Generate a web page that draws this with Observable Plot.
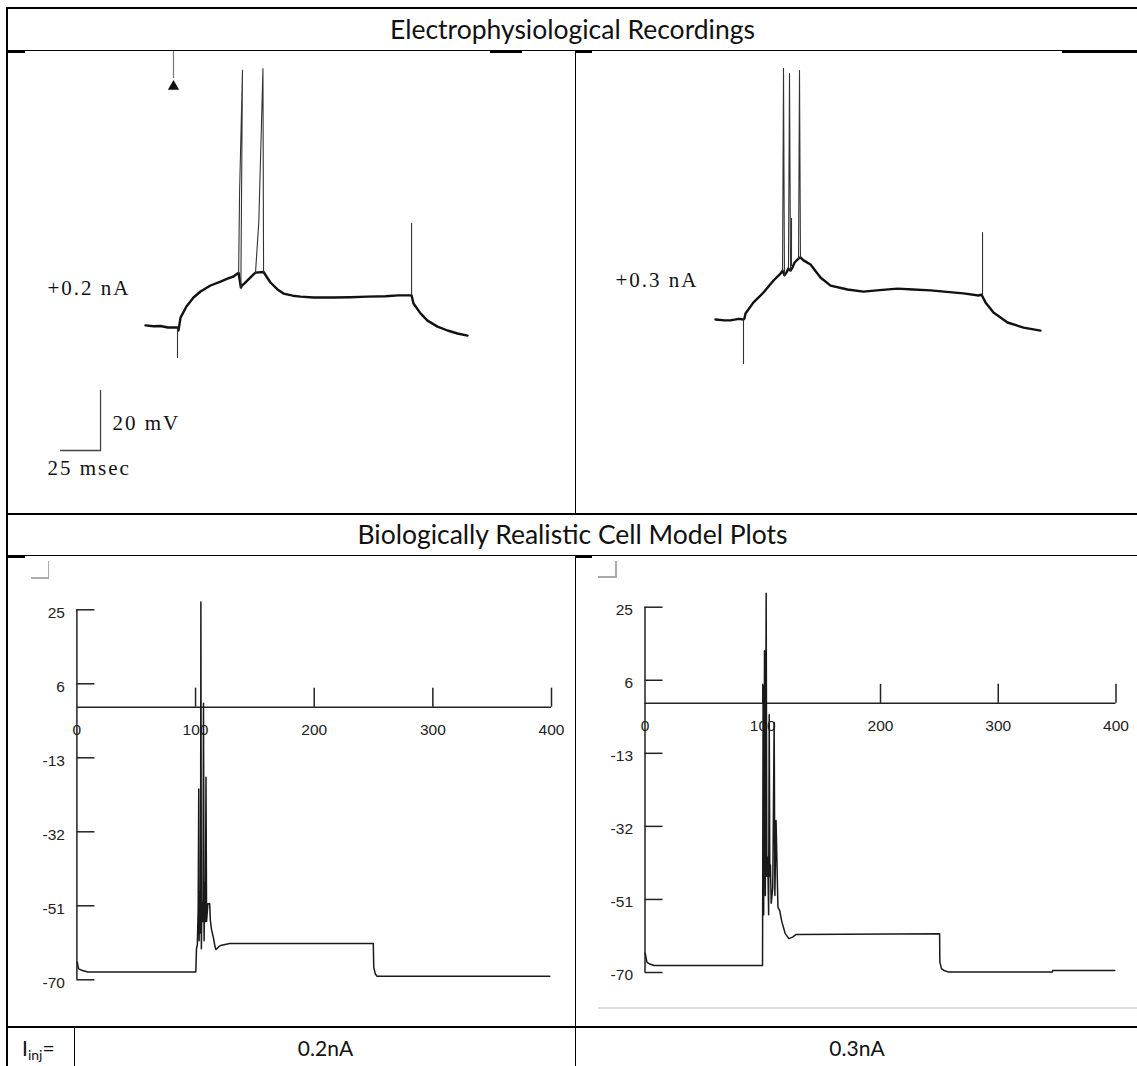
<!DOCTYPE html>
<html>
<head>
<meta charset="utf-8">
<script src="https://cdn.jsdelivr.net/npm/d3@7"></script>
<script src="https://cdn.jsdelivr.net/npm/@observablehq/plot@0.6"></script>
<style>
  html, body { margin: 0; padding: 0; background: #fff; }
  #page { position: relative; width: 1137px; height: 1066px; overflow: hidden; background: #fff; font-family: Lato, "Open Sans", sans-serif; color: #111; }
  .ln { position: absolute; background: #000; }
  .gr { position: absolute; background: #aaa; }
  .hdr { position: absolute; left: 8px; width: 1129px; text-align: center; font-size: 26.5px; line-height: 1; }
  .cell { position: absolute; text-align: center; font-size: 21px; line-height: 1; }
  .pl { position: absolute; }
  .pl svg { overflow: visible; }
</style>
</head>
<body>
<div id="page"></div>
<script>
// ---------------- DATA ----------------
// Table texts
const headerTop = "Electrophysiological Recordings";
const headerBottom = "Biologically Realistic Cell Model Plots";
const currents = ["0.2nA", "0.3nA"];
const recLabels = ["+0.2 nA", "+0.3 nA"];

// Recording 1 (+0.2 nA): time (ms from current step) and membrane potential (mV)
const recA_t = [-20, -15, -10.6, -6, -1.25, 0, 0.6, 1.9, 5.6, 10, 14.4, 20.6, 26.9, 31.25, 35, 37.5, 38.2,
                39.6, 40.3, 41.9, 43.75, 47.5, 48.75, 53.8, 55.6, 58.1, 62.5, 66.25, 72, 76.9, 85, 97.5, 108,
                118.75, 130, 138, 144.4, 146.3, 147.5, 151.9, 156.25, 162.5, 168.75, 175, 181.25];
const recA_v = [-64.3, -64.6, -64.5, -65, -65, -65, -66, -61.7, -58, -55, -53, -51, -49.7, -48.7, -48, -47, -46.8,
                -51.7, -51, -50.3, -49.3, -47.3, -46.7, -46.5, -48, -50, -52.3, -53.7, -54.4, -54.7, -55, -55, -54.9,
                -54.7, -54.6, -54.3, -54.3, -54.3, -57, -60.3, -62.7, -64.7, -66, -67, -67.7];
// Recording 1 spikes / artifacts: each a short polyline (id, t, v)
const spkA_id = [0, 0, 1, 1, 1, 1, 2, 2, 2, 2, 2, 3, 3];
const spkA_t  = [0, 0, 38.2, 38.8, 40.6, 39.6, 48.75, 50.8, 52.6, 53.4, 53.8, 146.3, 146.3];
const spkA_v  = [-65, -75, -46.8, -20, 20.7, -51.7, -46.7, -30, 5, 21.3, -46.5, -54.3, -30.3];

// Recording 2 (+0.3 nA)
const recB_t = [-17.5, -12, -8.1, -3, 0, 0.6, 1.25, 6.25, 12.5, 18.75, 23.1, 24.4, 25.6, 26.9, 28.1, 29.4, 30.6,
                31.9, 34.4, 35.6, 37.5, 41.9, 48.1, 54.4, 65, 75, 85, 96.25, 106, 116.9, 127, 137.5, 146.9, 148.75,
                150, 151.25, 156.25, 165, 175, 185.6];
const recB_v = [-65, -65.3, -65.3, -64.8, -65, -64.7, -63, -59.3, -56, -52, -49.7, -48.7, -50.3, -49.3, -48, -48.7, -47.7,
                -46, -44.7, -44.3, -45.3, -46.7, -51, -53.7, -55, -55.7, -55.2, -54.7, -55, -55.3, -55.8, -56.3, -57, -56.7,
                -58, -59.3, -62.7, -66, -67.7, -68.7];
const spkB_id = [0, 0, 1, 1, 1, 2, 2, 2, 3, 3, 4, 4, 4, 5, 5];
const spkB_t  = [0, 0, 24.4, 25, 25.6, 28.1, 28.75, 29.4, 30, 30, 34.4, 35, 35.6, 149.4, 149.4];
const spkB_v  = [-65, -79.7, -48.7, 18.7, -50.3, -48, 17, -48.7, -47, -31.3, -44.7, 18, -44.3, -56.7, -36];

// Scale bar of the recordings: 25 ms, 20 mV
const scaleBar_t = [-73.1, -48.1, -48.1];
const scaleBar_v = [-106, -106, -86];
const scaleBarLabels = ["20 mV", "25 msec"];

// Model plots: time (ms), V (mV)
const modelA_t = [0.3, 0.6, 1.5, 4.6, 9.2, 100.2, 100.8, 101.5, 102.2, 102.7, 103.0, 103.6, 104.2, 104.5, 104.9,
                  105.4, 106.2, 106.7, 107.2, 107.9, 108.3, 108.8, 109.3, 110.4, 111.9, 112.5, 113.4, 114.9, 116.5,
                  117.2, 118, 119.5, 121.1, 128.7, 249.8, 250.2, 251.5, 253, 398.5];
const modelA_v = [-65.5, -65.9, -67.2, -67.6, -68, -68, -62, -61, -52, -21, -60, -47.5, -58, 27, -62,
                  -50, -55, 1, -60, -45, -55, -18, -55, -50.5, -50.5, -54.8, -57, -59, -61.6,
                  -62.2, -62, -61.5, -61.2, -60.7, -60.7, -66.8, -68.5, -69.1, -69.1];
const modelB_t = [0.2, 1.6, 4, 7.7, 99.8, 99.9, 100.3, 100.8, 101.5, 102.2, 102.9, 103.5, 104.2, 105.0, 105.5,
                  106.0, 106.5, 107.2, 108.5, 109.7, 110.3, 111.3, 112.9, 114.4, 116, 117.5, 119.1, 122.2, 125.3,
                  128.4, 250.2, 250.4, 251.8, 254, 258, 345.9, 346.2, 399];
const modelB_v = [-65, -67.3, -67.8, -68.2, -68.2, -58, 4.6, -55, 13.7, -50, 28.6, -45, -40, -55, -3,
                  -45, -42, -52, -48, -5, -50, -30.5, -53, -53.9, -56.5, -58.2, -59.9, -61.2, -60.8,
                  -60.1, -59.9, -67.3, -69, -69.5, -69.9, -69.9, -69.5, -69.5];
const modelXTicks = [0, 100, 200, 300, 400];
const modelYTicks = [25, 6, -13, -32, -51, -70];

// ---------------- LAYOUT (table) ----------------
const page = document.getElementById("page");
function box(cls, l, t, w, h) {
  const d = document.createElement("div");
  d.className = cls;
  Object.assign(d.style, {left: l + "px", top: t + "px", width: w + "px", height: h + "px"});
  page.appendChild(d);
  return d;
}
// borders & rules
box("ln", 7, 7, 1130, 2);      // top
box("ln", 6, 7, 2, 1059);      // left
box("ln", 7, 50, 1130, 1.3);   // under header
box("ln", 575, 50, 1.3, 464);  // middle (top)
box("ln", 7, 513, 1130, 2);    // above model header
box("ln", 7, 555, 1130, 1.3);  // under model header
box("ln", 575, 555, 1.3, 472); // middle (bottom)
box("ln", 7, 1026, 1130, 2);   // above I_inj row
box("ln", 575, 1026, 1.3, 40);
box("ln", 74, 1027, 1.3, 39);
// small thick fragments left over from the pasted figures
box("ln", 7, 50, 18, 2.6);
box("ln", 490, 50, 32, 2.6);
box("ln", 576, 50, 16, 2.6);
box("ln", 1062, 50, 75, 2.6);
box("ln", 7, 555, 18, 2.6);
box("ln", 576, 555, 16, 2.6);
// grey corner marks & line in model panels
box("gr", 31, 577, 18, 1.5);
box("gr", 47.5, 561, 1.5, 17.5);
box("gr", 598, 576, 18, 1.5);
box("gr", 615, 561, 1.5, 16.5);
box("gr", 598, 1007, 539, 2).style.background = "#ddd";

// header texts
const h1 = box("hdr", 8, 16, 1129, 28); h1.textContent = headerTop;
const h2 = box("hdr", 8, 521, 1129, 28); h2.textContent = headerBottom;
const c0 = box("cell", 8, 1037, 66, 26); c0.style.textAlign = "left"; c0.style.paddingLeft = "14px";
c0.innerHTML = "I<sub style='font-size:14px;vertical-align:-4px'>inj</sub>=";
const c1 = box("cell", 76, 1037, 499, 26); c1.textContent = currents[0];
const c2 = box("cell", 577, 1037, 560, 26); c2.textContent = currents[1];

// ---------------- PLOTS ----------------
function place(el, l, t) {
  const w = document.createElement("div");
  w.className = "pl";
  w.style.left = l + "px"; w.style.top = t + "px";
  w.appendChild(el);
  page.appendChild(w);
}
const rows = (t, v, extra = {}) => t.map((x, i) => ({t: x, v: v[i], ...Object.fromEntries(Object.entries(extra).map(([k, a]) => [k, a[i]]))}));

const serif = "'Liberation Serif', 'DejaVu Serif', serif";

function recordingPlot({width, height, tDomain, vDomain, t, v, sid, st, sv, label, labelPos, withScale, withArrow}) {
  const marks = [
    Plot.line(rows(t, v), {x: "t", y: "v", stroke: "#111", strokeWidth: 2.4, strokeLinejoin: "round"}),
    Plot.line(rows(st, sv, {id: sid}), {x: "t", y: "v", z: "id", stroke: "#333", strokeWidth: 1.1}),
    Plot.text([label], {x: labelPos[0], y: labelPos[1], text: d => d, textAnchor: "start", fontFamily: serif, fontSize: 21, fill: "#111"})
  ];
  if (withScale) {
    marks.push(
      Plot.line(rows(scaleBar_t, scaleBar_v), {x: "t", y: "v", stroke: "#444", strokeWidth: 1.3}),
      Plot.text([scaleBarLabels[0]], {x: scaleBar_t[2], y: scaleBar_v[2] - 11, dx: 12, text: d => d, textAnchor: "start", fontFamily: serif, fontSize: 21, fill: "#111"}),
      Plot.text([scaleBarLabels[1]], {x: scaleBar_t[0], y: scaleBar_v[0], dx: -13, dy: 18, text: d => d, textAnchor: "start", fontFamily: serif, fontSize: 21, fill: "#111"})
    );
  }
  if (withArrow) {
    marks.push(
      Plot.ruleX([-2.5], {y1: vDomain[1], y2: 18, stroke: "#777", strokeWidth: 1.2}),
      Plot.dot([-2.5], {x: d => d, y: 15.3, symbol: "triangle", r: 4.2, fill: "#111", stroke: "none"})
    );
  }
  return Plot.plot({
    width, height, margin: 0,
    x: {domain: tDomain, axis: null},
    y: {domain: vDomain, axis: null},
    style: {overflow: "visible", background: "transparent", letterSpacing: "2px"},
    marks
  });
}

place(recordingPlot({
  width: 567, height: 462, tDomain: [-105.625, 248.75], vDomain: [-127, 27],
  t: recA_t, v: recA_v, sid: spkA_id, st: spkA_t, sv: spkA_v,
  label: recLabels[0], labelPos: [-81.25, -52], withScale: true, withArrow: true
}), 8, 51);

place(recordingPlot({
  width: 560, height: 462, tDomain: [-103.75, 246.25], vDomain: [-129.67, 24.33],
  t: recB_t, v: recB_v, sid: spkB_id, st: spkB_t, sv: spkB_v,
  label: recLabels[1], labelPos: [-80, -52], withScale: false, withArrow: false
}), 577, 51);

const sans = "'Liberation Sans', Arial, sans-serif";
function modelPlot({width, height, mL, mR, mT, mB, t, v}) {
  const pxPerMs = (width - mL - mR) / 400;
  const pxPerMv = (height - mT - mB) / 95;
  const xTickLen = 19 / pxPerMv;  // upward tick length in mV
  const yTickLen = 18 / pxPerMs;  // inward tick length in ms
  return Plot.plot({
    width, height, marginLeft: mL, marginRight: mR, marginTop: mT, marginBottom: mB,
    x: {domain: [0, 400], axis: null},
    y: {domain: [-70, 25], axis: null},
    style: {overflow: "visible", background: "transparent"},
    marks: [
      Plot.ruleX([0], {y1: -70, y2: 25, stroke: "#222", strokeWidth: 1.5}),
      Plot.ruleY(modelYTicks, {x1: 0, x2: yTickLen, stroke: "#222", strokeWidth: 1.5}),
      Plot.ruleY([0], {x1: 0, x2: 400, stroke: "#222", strokeWidth: 1.5}),
      Plot.ruleX(modelXTicks.slice(1), {y1: 0, y2: xTickLen, stroke: "#222", strokeWidth: 1.5}),
      Plot.text(modelYTicks, {x: 0, y: d => d, dx: -12, dy: 3, text: d => String(d), textAnchor: "end", fontFamily: sans, fontSize: 15.5, fill: "#222"}),
      Plot.text(modelXTicks, {x: d => d, y: 0, dy: 23, text: d => String(d), textAnchor: "middle", fontFamily: sans, fontSize: 15.5, fill: "#222"}),
      Plot.line(rows(t, v), {x: "t", y: "v", stroke: "#1a1a1a", strokeWidth: 1.5, curve: "linear"})
    ]
  });
}

place(modelPlot({width: 567, height: 470, mL: 68.4, mR: 24, mT: 53.3, mB: 46.7, t: modelA_t, v: modelA_v}), 8, 556);
place(modelPlot({width: 560, height: 470, mL: 67.5, mR: 21.5, mT: 50.7, mB: 54, t: modelB_t, v: modelB_v}), 577, 556);
</script>
</body>
</html>
